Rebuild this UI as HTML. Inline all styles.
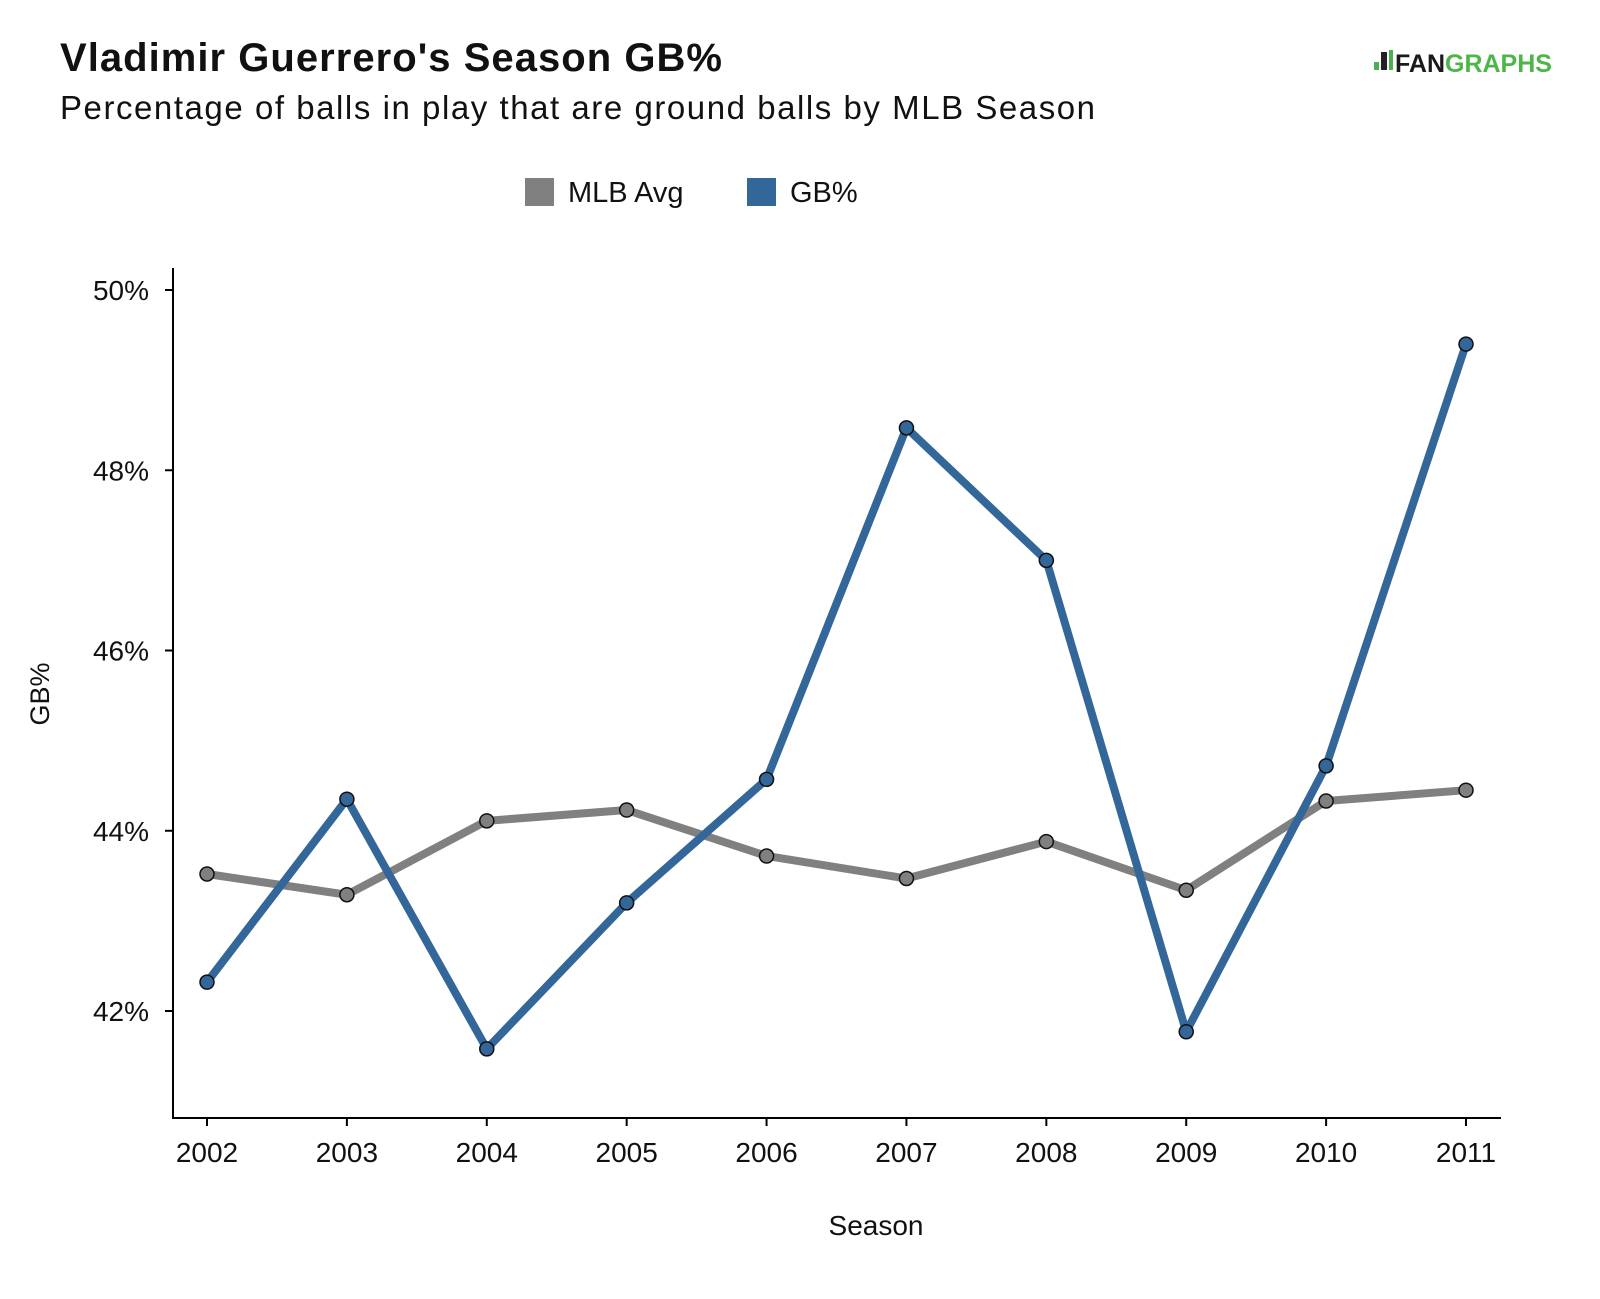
<!DOCTYPE html>
<html><head><meta charset="utf-8"><style>
body{margin:0;background:#fff;font-family:"Liberation Sans",sans-serif}
svg text{font-family:"Liberation Sans",sans-serif;fill:#111}
</style></head><body>
<svg width="1600" height="1294">
<text x="60" y="71" font-size="40" font-weight="bold" textLength="662">Vladimir Guerrero's Season GB%</text>
<text x="60" y="119" font-size="33" textLength="1035">Percentage of balls in play that are ground balls by MLB Season</text>
<g>
<rect x="1374" y="62" width="5" height="8" fill="#4caf50"/>
<rect x="1381" y="52" width="6" height="18" fill="#222"/>
<rect x="1389" y="50" width="4" height="20" fill="#4caf50"/>
<text x="1395" y="72" font-size="25" font-weight="bold" style="fill:#1a1a1a">FAN<tspan style="fill:#4cb648">GRAPHS</tspan></text>
</g>
<g>
<rect x="525" y="178" width="29" height="28" fill="#808080"/>
<text x="568" y="202" font-size="29">MLB Avg</text>
<rect x="747" y="178" width="29" height="28" fill="#336699"/>
<text x="790" y="202" font-size="29">GB%</text>
</g>
<line x1="173" y1="268" x2="173" y2="1119" stroke="#000" stroke-width="2"/>
<line x1="172" y1="1118" x2="1501" y2="1118" stroke="#000" stroke-width="2"/>
<text x="0" y="0" font-size="27" text-anchor="middle" transform="translate(49,694) rotate(-90)">GB%</text>
<text x="876" y="1235" font-size="28" text-anchor="middle">Season</text>
<g id="ticks"></g>
<g id="lines"></g>
</svg>
<script>
const years=[2002,2003,2004,2005,2006,2007,2008,2009,2010,2011];
const mlbAvg=[43.52,43.29,44.11,44.23,43.72,43.47,43.88,43.34,44.33,44.45];
const gbPct=[42.32,44.35,41.58,43.2,44.57,48.47,47.0,41.77,44.72,49.4];
const yTicks=[42,44,46,48,50];
const NS='http://www.w3.org/2000/svg';
function xs(i){return 207+i*(1466-207)/9;}
function ys(v){return 1011-(v-42)*(1011-290)/8;}
const tg=document.getElementById('ticks'),lg=document.getElementById('lines');
function mk(t,a,p){const e=document.createElementNS(NS,t);for(const k in a)e.setAttribute(k,a[k]);p.appendChild(e);return e;}
yTicks.forEach(v=>{
 const l=mk('line',{x1:165,x2:173,y1:ys(v),y2:ys(v),stroke:'#000','stroke-width':2},tg);
 
 
 const t=mk('text',{x:149,y:ys(v)+10,'font-size':28,'text-anchor':'end'},tg);
 t.textContent=v+'%';
 
 
});
years.forEach((y,i)=>{
 const l=mk('line',{x1:xs(i),x2:xs(i),y1:1118,y2:1126,stroke:'#000','stroke-width':2},tg);
 
 
 const t=mk('text',{x:xs(i),y:1162,'font-size':28,'text-anchor':'middle'},tg);
 t.textContent=y;
 
 
});
function series(vals,color,name){
 const p=mk('polyline',{points:vals.map((v,i)=>xs(i)+','+ys(v)).join(' '),fill:'none',stroke:color,'stroke-width':8,'stroke-linejoin':'round'},lg);
 
 
 vals.forEach((v,i)=>{
  const c=mk('circle',{cx:xs(i),cy:ys(v),r:7,fill:color,stroke:'#111','stroke-width':1.5},lg);
  
  
 });
}
series(mlbAvg,'#808080','mlb-avg');
series(gbPct,'#336699','gb-pct');
</script>
</body></html>
